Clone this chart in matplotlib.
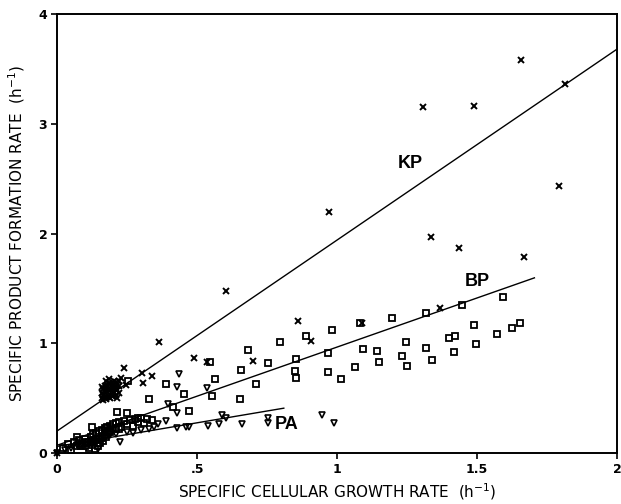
import numpy as np
import matplotlib.pyplot as plt

# KP (x markers)
kp_x = [0.0, 1.658, 1.306, 1.488, 1.815, 1.794, 0.972, 1.335, 1.437, 1.669, 0.605, 0.363, 0.861, 0.907,
        0.491, 0.534, 0.701, 0.24, 0.302, 0.34, 0.306, 0.245, 1.09, 1.367, 0.23,
        0.16, 0.17, 0.18, 0.19, 0.20, 0.21, 0.22, 0.16, 0.17, 0.18, 0.19, 0.20, 0.21, 0.22,
        0.16, 0.17, 0.18, 0.19, 0.20, 0.21, 0.22, 0.165, 0.175, 0.185, 0.195, 0.205, 0.215,
        0.165, 0.175, 0.185, 0.195, 0.205, 0.215, 0.165, 0.175, 0.185, 0.195, 0.205, 0.215]
kp_y = [0.0, 3.58, 3.15, 3.16, 3.36, 2.43, 2.20, 1.97, 1.87, 1.79, 1.48, 1.01, 1.20, 1.02,
        0.87, 0.83, 0.84, 0.77, 0.73, 0.70, 0.64, 0.62, 1.18, 1.32, 0.68,
        0.50, 0.50, 0.51, 0.50, 0.52, 0.53, 0.55, 0.55, 0.56, 0.56, 0.57, 0.58, 0.59, 0.61,
        0.60, 0.61, 0.62, 0.63, 0.63, 0.65, 0.66, 0.53, 0.58, 0.64, 0.54, 0.60, 0.57,
        0.48, 0.49, 0.51, 0.52, 0.55, 0.62, 0.58, 0.66, 0.67, 0.60, 0.66, 0.50]

# BP (open squares)
bp_x = [1.448, 1.594, 1.488, 1.495, 1.573, 1.626, 1.655, 1.317, 1.196, 1.082, 0.982, 0.968, 0.968,
        1.014, 1.064, 1.093, 1.142, 1.149, 1.246, 1.231, 1.249, 1.317, 1.338, 1.399, 1.423, 1.416,
        0.89, 0.797, 0.683, 0.548, 0.754, 0.854, 0.85, 0.854, 0.658, 0.566, 0.712, 0.555, 0.655,
        0.452, 0.47, 0.413, 0.391, 0.327, 0.253, 0.213, 0.249, 0.125, 0.071, 0.085, 0.288,
        0.02, 0.04, 0.06, 0.08, 0.10, 0.12, 0.13, 0.14, 0.15, 0.16, 0.17, 0.18, 0.19, 0.20,
        0.21, 0.22, 0.24, 0.26, 0.28, 0.30, 0.32, 0.34, 0.14, 0.16, 0.18, 0.12, 0.22, 0.10,
        0.05, 0.07, 0.09, 0.11, 0.13, 0.15, 0.17, 0.19, 0.21, 0.23, 0.25, 0.27, 0.29, 0.31,
        0.145, 0.155, 0.165, 0.175, 0.185, 0.195, 0.135, 0.125, 0.115, 0.105]
bp_y = [1.35, 1.42, 1.17, 0.99, 1.08, 1.14, 1.18, 1.28, 1.23, 1.18, 1.12, 0.91, 0.74,
        0.67, 0.78, 0.95, 0.93, 0.83, 1.01, 0.88, 0.79, 0.96, 0.85, 1.05, 1.07, 0.92,
        1.07, 1.01, 0.94, 0.83, 0.82, 0.86, 0.75, 0.68, 0.76, 0.67, 0.63, 0.52, 0.49,
        0.54, 0.38, 0.42, 0.63, 0.49, 0.66, 0.37, 0.36, 0.24, 0.15, 0.06, 0.32,
        0.05, 0.08, 0.10, 0.12, 0.13, 0.15, 0.17, 0.18, 0.20, 0.21, 0.23, 0.24, 0.25, 0.26,
        0.27, 0.28, 0.29, 0.30, 0.31, 0.32, 0.31, 0.30, 0.12, 0.14, 0.18, 0.10, 0.22, 0.06,
        0.03, 0.06, 0.08, 0.09, 0.11, 0.13, 0.16, 0.19, 0.22, 0.24, 0.26, 0.25, 0.28, 0.27,
        0.06, 0.09, 0.11, 0.15, 0.20, 0.23, 0.04, 0.07, 0.05, 0.10]

# PA (open triangles)
pa_x = [0.0, 0.947, 0.989, 0.754, 0.754, 0.662, 0.591, 0.605, 0.577, 0.541, 0.47, 0.427, 0.434,
        0.43, 0.534, 0.427, 0.346, 0.27, 0.224, 0.146, 0.395, 0.462,
        0.03, 0.05, 0.07, 0.09, 0.11, 0.13, 0.15, 0.17, 0.19, 0.21, 0.25, 0.30, 0.33, 0.36, 0.39]
pa_y = [0.0, 0.35, 0.27, 0.32, 0.27, 0.26, 0.35, 0.32, 0.26, 0.25, 0.24, 0.23, 0.72,
        0.60, 0.59, 0.36, 0.24, 0.18, 0.10, 0.04, 0.45, 0.24,
        0.03, 0.05, 0.07, 0.08, 0.10, 0.12, 0.13, 0.14, 0.16, 0.17, 0.19, 0.21, 0.22, 0.26, 0.29]

# fitted lines: intercept, slope, x end
kp_fit = (0.20, 1.74, 2.0)
bp_fit = (0.07, 0.895, 1.705)
pa_fit = (0.06, 0.43, 0.81)

fig = plt.figure(figsize=(6.21, 5.04), dpi=100)
ax = fig.add_axes([0.0918, 0.1012, 0.9018, 0.871])
plt.rcParams['font.family'] = ['Liberation Sans', 'DejaVu Sans']

ax.plot(kp_x, kp_y, 'x', color='black', ms=4, mew=1.4, clip_on=False)
ax.plot(bp_x, bp_y, 's', mfc='none', mec='black', ms=5, mew=1.3)
ax.plot(pa_x, pa_y, 'v', mfc='none', mec='black', ms=4.5, mew=1.2, clip_on=False)

for b0, b1, xe in [kp_fit, bp_fit, pa_fit]:
    xs = np.array([0, xe])
    ax.plot(xs, b0 + b1 * xs, color='black', lw=1.0)

ax.text(1.26, 2.64, 'KP', fontsize=13, fontweight='bold', ha='center', va='center')
ax.text(1.50, 1.56, 'BP', fontsize=13, fontweight='bold', ha='center', va='center')
ax.text(0.82, 0.26, 'PA', fontsize=13, fontweight='bold', ha='center', va='center')

ax.set_xlim(0, 2)
ax.set_ylim(0, 4)
ax.set_xticks([0, 0.5, 1, 1.5, 2])
ax.set_xticklabels(['0', '.5', '1', '1.5', '2'])
ax.set_yticks([0, 1, 2, 3, 4])
ax.set_yticklabels(['0', '1', '2', '3', '4'])
ax.tick_params(direction='out', length=4, width=1.2, labelsize=9, pad=3)
for lab in ax.get_xticklabels() + ax.get_yticklabels():
    lab.set_fontweight('bold')
for s in ax.spines.values():
    s.set_linewidth(1.4)

ax.set_xlabel('SPECIFIC CELLULAR GROWTH RATE  (h$^{-1}$)', fontsize=11, labelpad=4)
ax.set_ylabel('SPECIFIC PRODUCT FORMATION RATE  (h$^{-1}$)', fontsize=11, labelpad=8)

fig.savefig('out.png', dpi=100)
